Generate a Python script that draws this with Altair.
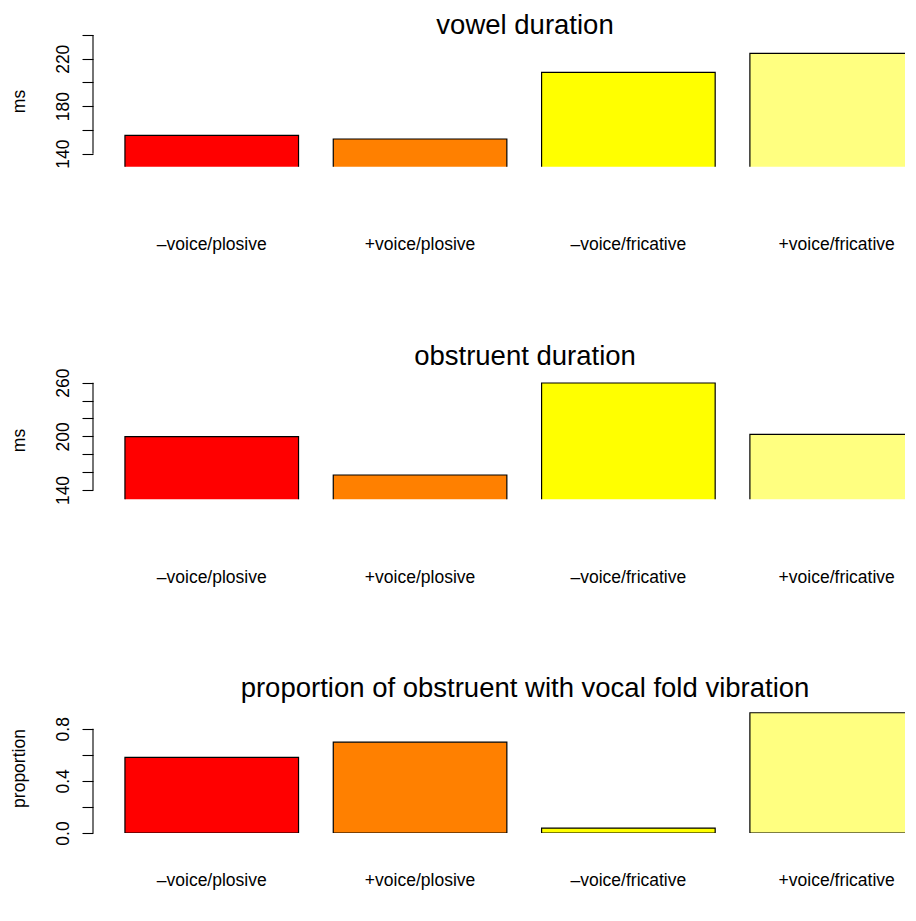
import altair as alt
import pandas as pd

categories = ["–voice/plosive", "+voice/plosive", "–voice/fricative", "+voice/fricative"]
bar_colors = ["#FF0000", "#FF8000", "#FFFF00", "#FFFF80"]

vowel_ms = [155.4, 152.4, 208.5, 224.5]
obstruent_ms = [199.6, 156.8, 259.7, 202.3]
voiced_prop = [0.58, 0.697, 0.038, 0.923]

vowel_ticks = [140, 160, 180, 200, 220, 240]
vowel_labels = [140, 180, 220]
obstruent_ticks = [140, 160, 180, 200, 220, 240, 260]
obstruent_labels = [140, 200, 260]
prop_ticks = [0.0, 0.2, 0.4, 0.6, 0.8]
prop_labels = [0.0, 0.4, 0.8]

# barplot layout (width 1, space 0.2), as in R's barplot()
BAR_SPACE = 0.2
BAR_WIDTH = 1.0
bar_left = [BAR_SPACE + i * (BAR_WIDTH + BAR_SPACE) for i in range(len(categories))]

FONT = "Liberation Sans, Arial, Helvetica, sans-serif"
PLOT_W = 812
X_RANGE = [0, 813.5]
X_DOMAIN = [0.016, 4.7021]  # visible part of the x range (the page crops the right side)


def panel(values, title, ytitle, ticks, shown, fmt, domain, height,
          title_offset, label_dy, title_y):
    df = pd.DataFrame({
        "cat": categories,
        "val": values,
        "left": bar_left,
        "right": [l + BAR_WIDTH for l in bar_left],
        "mid": [l + BAR_WIDTH / 2 for l in bar_left],
    })
    xscale = alt.Scale(domain=X_DOMAIN, range=X_RANGE, clamp=True, nice=False, zero=False)
    y = alt.Y(
        "val:Q",
        scale=alt.Scale(domain=domain, zero=False, nice=False),
        axis=alt.Axis(
            title=ytitle, values=ticks, tickCount=50, format=fmt, domain=False,
            tickSize=11, tickColor="black", tickWidth=1.1,
            labelAngle=-90, labelAlign="center", labelBaseline="bottom",
            labelPadding=10, labelFontSize=17.5, labelFont=FONT,
            labelColor="black", labelOverlap=False, labelFlush=False,
            labelExpr=f"indexof({shown}, datum.value) >= 0 ? datum.label : ''",
            titleFont=FONT, titleFontSize=17.5, titleFontWeight="normal",
            titleColor="black", titleAngle=-90, titleAlign="center",
            titleBaseline="alphabetic", titleX=-69, titleY=title_y,
            grid=False,
        ),
    )
    bars = alt.Chart(df).mark_bar(clip=True, stroke="black", strokeWidth=1.2).encode(
        x=alt.X("left:Q", scale=xscale, axis=None),
        x2="right:Q",
        y=y,
        y2=alt.datum(0),
        color=alt.Color("cat:N", scale=alt.Scale(domain=categories, range=bar_colors), legend=None),
    )
    names = alt.Chart(df).mark_text(
        font=FONT, fontSize=17.5, color="black", baseline="middle", align="center"
    ).encode(
        x=alt.X("mid:Q", scale=xscale, axis=None),
        y=alt.value(height + label_dy),
        text="cat:N",
    )
    axis_df = pd.DataFrame({"lo": [ticks[0]], "hi": [ticks[-1]]})
    rule = alt.Chart(axis_df).mark_rule(color="black", strokeWidth=1.1).encode(
        x=alt.value(0), y="lo:Q", y2="hi:Q"
    )
    return alt.layer(bars, names, rule).properties(
        width=PLOT_W, height=height,
        title=alt.TitleParams(
            text=title, font=FONT, fontSize=27.5, fontWeight="normal", color="black",
            anchor="middle", dx=26, offset=title_offset, frame="group",
        ),
    )


p1 = panel(vowel_ms, "vowel duration", "ms", vowel_ticks, vowel_labels, "d",
           [129, 240], 131.8, -4.7, 78.5, 66)
p2 = panel(obstruent_ms, "obstruent duration", "ms", obstruent_ticks, obstruent_labels, "d",
           [129.6, 273.1], 128.3, -2.5, 78.5, 69)
p3 = panel(voiced_prop, "proportion of obstruent with vocal fold vibration", "proportion",
           prop_ticks, prop_labels, ".1f", [0, 0.99], 129, 2.0, 48, 64)

chart = alt.vconcat(p1, p2, p3, spacing=204, bounds="flush").properties(
    padding={"left": 2, "top": 3, "right": 0, "bottom": 0}
).configure(background="white").configure_view(stroke="transparent", strokeWidth=0)

chart.save("out.html", embed_options={"renderer": "svg", "actions": False})
